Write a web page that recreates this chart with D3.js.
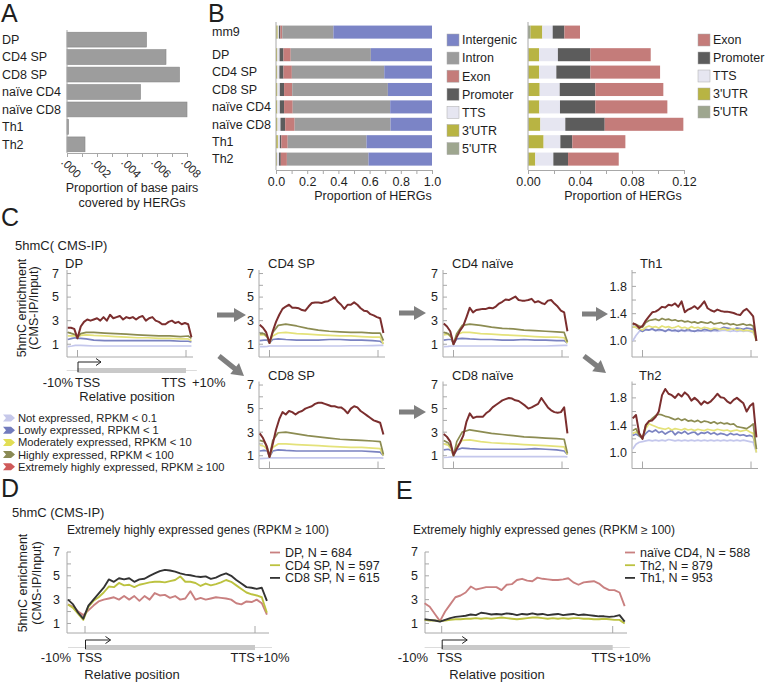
<!DOCTYPE html>
<html><head><meta charset="utf-8">
<script src="https://cdn.jsdelivr.net/npm/d3@7"></script>
<style>body{margin:0;background:#fff}svg{font-family:Arial,"Liberation Sans",sans-serif}</style>
</head><body>
<svg id="c" width="765" height="684"></svg>
<script>
// ---------- Panel A data ----------
const catA = ["DP","CD4 SP","CD8 SP","naïve CD4","naïve CD8","Th1","Th2"];
const valA = [0.0053,0.0066,0.0075,0.0049,0.0080,0.0001,0.0012];
const tickValsA = [0,0.001,0.002,0.003,0.004,0.005,0.006,0.007,0.008];
const tickLabA = [".000","",".002","",".004","",".006","",".008"];

// ---------- Panel B data ----------
const catB = ["mm9","DP","CD4 SP","CD8 SP","naïve CD4","naïve CD8","Th1","Th2"];
const featB = ["5'UTR","3'UTR","TTS","Promoter","Exon","Intron","Intergenic"];
const utr5B = [0.002,0.0005,0.0005,0.0005,0.0005,0.0005,0.0005,0.0005];
const utr3B = [0.009,0.008,0.008,0.0085,0.0082,0.009,0.0115,0.0051];
const ttsB = [0.008,0.0145,0.0133,0.0154,0.0159,0.0192,0.0129,0.0139];
const promB = [0.009,0.025,0.0262,0.0274,0.0272,0.0303,0.0092,0.0113];
const exonB = [0.012,0.0464,0.0536,0.0523,0.0554,0.0605,0.0408,0.039];
const intronB = [0.328,0.5136,0.5924,0.6129,0.6248,0.6145,0.5051,0.5232];
const interB = [0.632,0.392,0.306,0.283,0.268,0.266,0.42,0.407];
const tickValsB1 = [0,0.1,0.2,0.3,0.4,0.5,0.6,0.7,0.8,0.9,1.0];
const tickLabB1 = ["0.0","","0.2","","0.4","","0.6","","0.8","","1.0"];
const tickValsB2 = [0,0.02,0.04,0.06,0.08,0.10,0.12];
const tickLabB2 = ["0.00","","0.04","","0.08","","0.12"];

// ---------- Panel C data ----------
const pos = [-9,-6,-3,0,3,6,9,12,15,18,21,24,27,30,33,36,39,42,45,48,51,54,57,60,63,66,69,72,75,78,81,84,87,90,93,96,99,102,105];
const posCoarse = [-9,-5,-2,0,3,8,15,25,35,45,55,65,75,85,95,102,105];
const exprLevels = ["Not expressed, RPKM < 0.1","Lowly expressed, RPKM < 1","Moderately expressed, RPKM < 10","Highly expressed, RPKM < 100","Extremely highly expressed, RPKM ≥ 100"];

const dpExt = [2.4,2.4,2.3,1.5,2.5,2.9,3.1,3.0,3.1,3.2,3.0,3.3,3.0,3.5,3.2,3.3,3.4,3.1,3.3,3.2,3.3,3.1,3.3,3.4,3.0,3.2,3.3,3.0,2.9,2.7,2.7,2.9,3.0,2.8,2.9,2.7,2.8,2.7,1.6];
const dpHigh = [2.0,1.9,1.8,1.6,1.9,2.0,2.0,1.95,1.9,1.85,1.8,1.75,1.7,1.7,1.65,1.7,1.5];
const dpMod = [1.7,1.7,1.7,1.6,1.75,1.8,1.75,1.7,1.65,1.6,1.55,1.55,1.5,1.5,1.45,1.45,1.3];
const dpLow = [1.4,1.5,1.55,1.5,1.5,1.45,1.35,1.3,1.3,1.3,1.3,1.3,1.3,1.3,1.25,1.25,1.2];
const dpNot = [0.8,0.85,0.9,0.9,0.9,0.88,0.85,0.85,0.85,0.85,0.85,0.85,0.85,0.85,0.85,0.85,0.85];

const cd4spExt = [2.65,2.4,2.0,1.1,2.1,2.9,3.5,4.0,4.2,4.35,4.1,4.1,4.05,3.9,3.85,4.2,4.5,4.55,4.55,4.5,4.6,4.65,4.8,5.0,4.6,4.35,4.0,4.35,4.35,4.55,4.35,4.05,3.85,3.8,3.55,3.45,3.3,3.2,1.95];
const cd4spHigh = [1.9,1.9,1.6,1.1,2.0,2.6,2.7,2.55,2.35,2.2,2.1,2.05,2.0,2.0,1.95,1.95,1.3];
const cd4spMod = [1.8,1.8,1.6,1.1,1.7,1.95,2.0,1.9,1.85,1.8,1.75,1.7,1.7,1.65,1.6,1.6,1.0];
const cd4spLow = [1.3,1.35,1.35,1.1,1.4,1.45,1.4,1.35,1.35,1.35,1.4,1.4,1.35,1.35,1.3,1.25,1.05];
const cd4spNot = [0.8,0.8,0.82,0.85,0.85,0.85,0.85,0.85,0.85,0.85,0.85,0.85,0.87,0.87,0.88,0.9,0.9];

const cd4nExt = [2.75,2.5,2.1,1.0,1.6,2.15,2.55,3.3,4.1,3.7,3.9,3.95,4.0,4.0,4.1,4.05,4.2,4.45,4.6,4.8,4.75,4.9,5.05,4.75,4.7,4.7,4.75,4.85,4.55,4.65,4.5,4.4,4.7,4.75,4.45,4.2,3.85,3.7,2.1];
const cd4nHigh = [2.0,1.9,1.6,1.0,1.9,2.6,2.7,2.6,2.45,2.35,2.3,2.2,2.15,2.1,2.05,2.0,1.2];
const cd4nMod = [1.8,1.85,1.6,1.0,1.8,2.0,2.0,1.9,1.85,1.8,1.75,1.7,1.65,1.6,1.6,1.55,1.1];
const cd4nLow = [1.35,1.4,1.4,1.0,1.45,1.5,1.45,1.4,1.4,1.35,1.35,1.4,1.35,1.35,1.3,1.3,1.1];
const cd4nNot = [0.8,0.82,0.85,0.85,0.85,0.85,0.85,0.85,0.85,0.85,0.85,0.85,0.85,0.85,0.88,0.9,0.9];

const cd8spExt = [2.9,2.5,1.9,0.9,2.0,3.2,4.1,4.7,4.5,4.8,4.7,4.5,4.7,4.8,5.0,5.1,5.2,5.4,5.5,5.5,5.4,5.3,5.2,5.2,5.1,5.1,4.9,4.6,5.0,5.2,5.1,4.8,4.6,4.4,4.2,4.0,3.9,3.8,2.8];
const cd8spHigh = [2.3,2.2,1.7,0.9,2.3,2.95,3.0,2.85,2.7,2.6,2.5,2.4,2.35,2.3,2.25,2.2,1.1];
const cd8spMod = [1.9,1.8,1.5,0.9,1.7,2.0,2.0,1.95,1.9,1.85,1.8,1.75,1.7,1.7,1.65,1.6,1.0];
const cd8spLow = [1.4,1.45,1.4,0.9,1.4,1.5,1.45,1.4,1.4,1.4,1.4,1.4,1.4,1.4,1.35,1.3,1.0];
const cd8spNot = [0.75,0.78,0.8,0.82,0.82,0.82,0.82,0.82,0.82,0.82,0.82,0.82,0.82,0.82,0.82,0.82,0.8];

const cd8nExt = [2.85,2.6,2.2,1.05,1.6,2.1,2.7,3.9,4.6,4.2,4.3,4.3,4.3,4.6,4.8,5.1,5.3,5.5,5.7,5.8,5.9,5.85,5.7,5.65,5.45,5.25,5.0,5.1,5.25,5.4,5.9,5.5,5.1,4.85,4.7,4.65,4.7,5.1,2.9];
const cd8nHigh = [2.3,2.1,1.7,1.0,2.2,3.0,3.2,3.05,2.9,2.8,2.7,2.6,2.55,2.5,2.45,2.4,1.2];
const cd8nMod = [2.0,1.9,1.5,1.0,1.8,2.3,2.35,2.2,2.1,2.05,2.0,1.95,1.9,1.85,1.8,1.75,1.1];
const cd8nLow = [1.5,1.55,1.45,1.0,1.5,1.65,1.6,1.55,1.55,1.55,1.55,1.55,1.6,1.55,1.5,1.4,1.1];
const cd8nNot = [0.85,0.87,0.9,0.92,0.92,0.92,0.92,0.92,0.92,0.92,0.92,0.92,0.92,0.92,0.92,0.92,0.9];

const th1Ext = [1.26,1.24,1.19,1.22,1.3,1.36,1.42,1.43,1.46,1.5,1.49,1.53,1.52,1.55,1.5,1.58,1.42,1.46,1.48,1.51,1.47,1.52,1.58,1.48,1.45,1.43,1.46,1.44,1.43,1.43,1.42,1.41,1.39,1.38,1.44,1.47,1.42,1.36,1.0];
const th1High = [1.25,1.24,1.22,1.2,1.27,1.3,1.31,1.32,1.3,1.33,1.31,1.32,1.3,1.31,1.29,1.3,1.28,1.29,1.27,1.28,1.26,1.28,1.27,1.26,1.28,1.25,1.26,1.27,1.25,1.26,1.24,1.25,1.23,1.24,1.25,1.23,1.24,1.22,1.0];
const th1Mod = [1.21,1.2,1.18,1.16,1.2,1.22,1.2,1.21,1.19,1.22,1.2,1.21,1.19,1.2,1.22,1.19,1.2,1.18,1.21,1.19,1.2,1.18,1.2,1.19,1.17,1.19,1.18,1.17,1.18,1.16,1.17,1.18,1.16,1.17,1.15,1.16,1.15,1.14,1.0];
const th1Low = [1.22,1.2,1.17,1.14,1.17,1.16,1.18,1.15,1.17,1.16,1.14,1.17,1.15,1.16,1.14,1.16,1.15,1.17,1.15,1.14,1.16,1.15,1.17,1.16,1.15,1.17,1.16,1.18,1.2,1.19,1.18,1.17,1.19,1.18,1.17,1.19,1.18,1.17,1.0];
const th1Not = [1.0,1.08,1.14,1.15,1.16,1.16,1.17,1.16,1.15,1.16,1.15,1.16,1.15,1.14,1.16,1.15,1.14,1.15,1.14,1.15,1.14,1.15,1.14,1.15,1.14,1.15,1.14,1.15,1.16,1.15,1.14,1.15,1.14,1.15,1.14,1.15,1.14,1.12,1.05];

const th2Ext = [1.5,1.55,1.28,1.2,1.4,1.46,1.47,1.52,1.6,1.84,1.93,1.86,1.84,1.8,1.86,1.82,1.88,1.84,1.76,1.8,1.76,1.7,1.75,1.72,1.75,1.8,1.86,1.81,1.8,1.75,1.72,1.77,1.8,1.76,1.72,1.6,1.68,1.72,1.22];
const th2High = [1.32,1.35,1.25,1.2,1.4,1.45,1.5,1.54,1.56,1.55,1.53,1.52,1.5,1.48,1.5,1.47,1.49,1.46,1.47,1.45,1.47,1.44,1.46,1.45,1.43,1.45,1.42,1.44,1.42,1.43,1.41,1.42,1.38,1.37,1.36,1.35,1.38,1.42,1.05];
const th2Mod = [1.28,1.3,1.27,1.22,1.35,1.42,1.4,1.38,1.36,1.35,1.34,1.36,1.33,1.35,1.34,1.33,1.35,1.33,1.34,1.32,1.34,1.33,1.32,1.34,1.33,1.32,1.34,1.33,1.32,1.33,1.31,1.32,1.33,1.31,1.32,1.33,1.3,1.28,1.0];
const th2Low = [1.25,1.27,1.24,1.22,1.28,1.32,1.3,1.33,1.29,1.31,1.27,1.3,1.32,1.26,1.3,1.28,1.31,1.27,1.29,1.3,1.26,1.29,1.28,1.3,1.27,1.29,1.26,1.28,1.27,1.25,1.28,1.26,1.27,1.25,1.26,1.24,1.25,1.23,1.05];
const th2Not = [1.05,1.12,1.15,1.16,1.17,1.18,1.17,1.18,1.17,1.18,1.17,1.19,1.18,1.17,1.18,1.17,1.18,1.17,1.18,1.17,1.18,1.17,1.18,1.17,1.18,1.17,1.18,1.17,1.18,1.17,1.18,1.17,1.18,1.17,1.18,1.17,1.16,1.15,1.0];

const ticksBig = ["1","3","5","7"], minorBig = [2,4,6];
const ticksSmall = ["1.0","1.4","1.8"], minorSmall = [1.2,1.6,2.0];

// ---------- Panels D / E data ----------
const posDE = [-10,-7,-4,-1,2,5,8,11,14,17,20,23,26,29,32,35,38,41,44,47,50,53,56,59,62,65,68,71,74,77,80,83,86,89,92,95,98,101,104,107];
const dDP = [2.6,2.4,2.0,1.7,2.1,2.5,2.85,3.0,3.1,3.2,3.0,3.3,3.0,3.3,2.9,3.3,3.0,3.55,3.35,3.4,3.15,3.3,3.0,3.1,3.7,3.0,3.15,3.0,3.1,3.2,3.15,3.1,3.0,2.7,2.6,2.85,2.8,3.0,2.7,1.75];
const dCD4 = [2.6,2.3,1.8,1.3,2.4,2.9,3.2,3.6,4.1,4.05,4.4,4.2,4.25,4.05,4.25,4.35,4.45,4.5,4.5,4.45,4.55,4.65,4.95,4.5,4.5,4.4,4.15,4.35,4.2,4.3,4.45,4.65,4.5,4.2,3.9,3.6,3.45,3.35,3.2,1.9];
const dCD8 = [3.0,2.6,1.9,1.4,2.5,3.0,3.5,4.0,4.7,4.5,4.8,4.7,4.8,4.5,4.7,4.75,5.0,5.2,5.4,5.5,5.45,5.35,5.2,5.1,5.05,4.95,4.9,4.95,4.75,4.85,5.05,5.2,5.0,4.65,4.35,4.05,4.0,3.9,4.0,2.9];
const dLabels = ["DP, N = 684","CD4 SP, N = 597","CD8 SP, N = 615"];
const eNaive = [2.7,2.4,1.8,1.2,2.0,2.6,3.2,3.35,3.6,4.1,3.85,3.95,4.05,4.05,4.05,3.8,4.25,4.3,4.65,4.75,4.6,4.55,4.85,4.75,4.7,4.65,4.65,4.7,4.8,4.45,4.25,4.45,4.5,4.55,4.35,4.0,3.8,3.8,3.6,2.45];
const eTh2 = [1.3,1.25,1.25,1.2,1.25,1.3,1.35,1.35,1.4,1.4,1.45,1.4,1.45,1.4,1.45,1.5,1.45,1.4,1.35,1.4,1.45,1.5,1.5,1.45,1.4,1.45,1.4,1.45,1.4,1.45,1.45,1.4,1.4,1.35,1.35,1.4,1.35,1.3,1.3,1.0];
const eTh1 = [1.35,1.3,1.25,1.15,1.3,1.45,1.55,1.6,1.65,1.75,1.7,1.9,1.85,1.75,1.8,1.75,1.85,1.8,1.7,1.8,1.75,1.85,1.75,1.8,1.7,1.75,1.8,1.7,1.75,1.8,1.7,1.75,1.7,1.65,1.6,1.6,1.55,1.6,1.7,1.15];
const eLabels = ["naïve CD4, N = 588","Th2, N = 879","Th1, N = 953"];

// =============================================================
const svg = d3.select("#c");
const AX = "#a8a8a8", TXT = "#1e1e1e";
function txt(x,y,s,size,anchor){
  return svg.append("text").attr("x",x).attr("y",y).text(s)
    .attr("font-size",size||12).attr("text-anchor",anchor||"start").attr("fill",TXT);
}
function line(x1,y1,x2,y2,col,w){
  svg.append("line").attr("x1",x1).attr("y1",y1).attr("x2",x2).attr("y2",y2)
    .attr("stroke",col||AX).attr("stroke-width",w||1);
}
txt(1,22,"A",25); txt(208,22,"B",25); txt(1,226,"C",25); txt(1,497,"D",25); txt(396,499,"E",25);

// ---------------- Panel A ----------------
{
  const x = d3.scaleLinear().domain([0,0.008]).range([67,187]);
  const y = d3.scaleBand().domain(catA).range([31,153]).paddingInner(0.15).paddingOuter(0.07);
  svg.append("g").selectAll("rect").data(catA).join("rect")
    .attr("x",x(0)).attr("y",d=>y(d)).attr("height",y.bandwidth())
    .attr("width",(d,i)=>x(valA[i])-x(0)).attr("fill","#9d9d9d").attr("stroke","#858585").attr("stroke-width",0.6);
  catA.forEach(c=>txt(2,y(c)+y.bandwidth()/2,c,12.5).attr("dy","0.35em"));
  line(67,30,67,153);
  const ax = svg.append("g").attr("transform","translate(0,153)")
    .call(d3.axisBottom(x).tickValues(tickValsA).tickSize(4).tickFormat((d,i)=>tickLabA[i]));
  ax.select(".domain").attr("stroke",AX);
  ax.selectAll(".tick line").attr("stroke",AX);
  ax.selectAll(".tick text").attr("transform","rotate(45)").attr("x",2).attr("y",8).attr("dy","0.35em")
    .style("text-anchor","start").attr("font-size",11.5).attr("fill",TXT).attr("font-family","Arial, Liberation Sans, sans-serif");
  txt(132,192,"Proportion of base pairs",12.5,"middle");
  txt(132,207,"covered by HERGs",12.5,"middle");
}

// ---------------- Panel B ----------------
const colB = {"5'UTR":"#9ea68f","3'UTR":"#b8b443","TTS":"#e6e6f1","Promoter":"#5c5c5c","Exon":"#c47c7a","Intron":"#9c9c9c","Intergenic":"#7b84c6"};
{
  const rows = catB.map((c,i)=>({cat:c,"5'UTR":utr5B[i],"3'UTR":utr3B[i],"TTS":ttsB[i],"Promoter":promB[i],"Exon":exonB[i],"Intron":intronB[i],"Intergenic":interB[i]}));
  const yCells = d3.scaleBand().domain(catB.slice(1)).range([46,167.8]).paddingInner(0.25).paddingOuter(0.125);
  const yM = d3.scaleBand().domain(["mm9"]).range([23.4,40.8]).paddingInner(0.25).paddingOuter(0.125);
  const yb = c => c==="mm9" ? yM(c) : yCells(c);
  const bh = yCells.bandwidth();
  const x1 = d3.scaleLinear().domain([0,1]).range([276,432]);
  const st1 = d3.stack().keys(featB)(rows);
  st1.forEach(s=>{
    svg.append("g").selectAll("rect").data(s).join("rect")
      .attr("x",d=>x1(d[0])).attr("width",d=>Math.max(0,x1(d[1])-x1(d[0])))
      .attr("y",d=>yb(d.data.cat)).attr("height",bh).attr("fill",colB[s.key]);
  });
  catB.forEach(c=>txt(212,yb(c)+bh/2,c,12.5).attr("dy","0.35em"));
  line(276,22,276,170);
  const a1 = svg.append("g").attr("transform","translate(0,170)")
    .call(d3.axisBottom(x1).tickValues(tickValsB1).tickSize(4).tickFormat((d,i)=>tickLabB1[i]));
  a1.select(".domain").attr("stroke",AX); a1.selectAll(".tick line").attr("stroke",AX);
  a1.selectAll(".tick text").attr("font-size",12.5).attr("fill",TXT).attr("font-family","Arial, Liberation Sans, sans-serif");
  txt(373,200,"Proportion of HERGs",12.5,"middle");
  const legL = featB.slice().reverse();
  legL.forEach((f,i)=>{
    const cy = 40 + i*18.1;
    svg.append("rect").attr("x",447).attr("y",cy-6).attr("width",12).attr("height",12)
      .attr("fill",colB[f]).attr("stroke","#aaa").attr("stroke-width",0.5);
    txt(462,cy,f,12.5).attr("dy","0.35em");
  });
  const keys2 = featB.slice(0,5);
  const x2 = d3.scaleLinear().domain([0,0.12]).range([528,684]);
  const st2 = d3.stack().keys(keys2)(rows);
  st2.forEach(s=>{
    svg.append("g").selectAll("rect").data(s).join("rect")
      .attr("x",d=>x2(d[0])).attr("width",d=>Math.max(0,x2(d[1])-x2(d[0])))
      .attr("y",d=>yb(d.data.cat)).attr("height",bh).attr("fill",colB[s.key]);
  });
  line(528,22,528,170);
  const a2 = svg.append("g").attr("transform","translate(0,170)")
    .call(d3.axisBottom(x2).tickValues(tickValsB2).tickSize(4).tickFormat((d,i)=>tickLabB2[i]));
  a2.select(".domain").attr("stroke",AX); a2.selectAll(".tick line").attr("stroke",AX);
  a2.selectAll(".tick text").attr("font-size",12.5).attr("fill",TXT).attr("font-family","Arial, Liberation Sans, sans-serif");
  txt(623,200,"Proportion of HERGs",12.5,"middle");
  const legR = keys2.slice().reverse();
  legR.forEach((f,i)=>{
    const cy = 40 + i*18;
    svg.append("rect").attr("x",698).attr("y",cy-6).attr("width",12).attr("height",12)
      .attr("fill",colB[f]).attr("stroke","#aaa").attr("stroke-width",0.5);
    txt(713,cy,f,12.5).attr("dy","0.35em");
  });
}

// ---------------- Panel C ----------------
const lineCols = ["#c4c7ec","#7b83c1","#e4e27a","#8c8c52","#7b2e2e"];
const iconCols = ["#c6c8ea","#727bbd","#e2de55","#8a8a55","#cf5a5a"];
txt(15,250,"5hmC( CMS-IP)",13);
svg.append("text").attr("transform","translate(22,308) rotate(-90)").attr("dy","0.35em").attr("text-anchor","middle")
  .attr("font-size",12.5).attr("fill",TXT).text("5hmC enrichment");
svg.append("text").attr("transform","translate(34,308) rotate(-90)").attr("dy","0.35em").attr("text-anchor","middle")
  .attr("font-size",12.5).attr("fill",TXT).text("(CMS-IP/Input)");

const panelsC = [
  {title:"DP",x0:67,row:0,tx:65,small:false,off:8,series:[[posCoarse,dpNot],[posCoarse,dpLow],[posCoarse,dpMod],[posCoarse,dpHigh],[pos,dpExt]]},
  {title:"CD4 SP",x0:259,row:0,tx:268,small:false,off:5,series:[[posCoarse,cd4spNot],[posCoarse,cd4spLow],[posCoarse,cd4spMod],[posCoarse,cd4spHigh],[pos,cd4spExt]]},
  {title:"CD4 naïve",x0:443,row:0,tx:452,small:false,off:5,series:[[posCoarse,cd4nNot],[posCoarse,cd4nLow],[posCoarse,cd4nMod],[posCoarse,cd4nHigh],[pos,cd4nExt]]},
  {title:"Th1",x0:632,row:0,tx:640,small:true,off:5,series:[[pos,th1Not],[pos,th1Low],[pos,th1Mod],[pos,th1High],[pos,th1Ext]]},
  {title:"CD8 SP",x0:259,row:1,tx:268,small:false,off:5,series:[[posCoarse,cd8spNot],[posCoarse,cd8spLow],[posCoarse,cd8spMod],[posCoarse,cd8spHigh],[pos,cd8spExt]]},
  {title:"CD8 naïve",x0:443,row:1,tx:452,small:false,off:5,series:[[posCoarse,cd8nNot],[posCoarse,cd8nLow],[posCoarse,cd8nMod],[posCoarse,cd8nHigh],[pos,cd8nExt]]},
  {title:"Th2",x0:632,row:1,tx:639,small:true,off:5,series:[[pos,th2Not],[pos,th2Low],[pos,th2Mod],[pos,th2High],[pos,th2Ext]]}
];
panelsC.forEach(p=>{
  const dy = p.row*111.5;
  const xs = d3.scaleLinear().domain([0,100]).range([p.x0+10.5,p.x0+119]);
  const ys = d3.scaleLinear().domain(p.small?[0.78,2.04]:[0,7.3]).range([356+dy,270+dy]);
  const bottom = 357+dy;
  line(p.x0,270+dy,p.x0,bottom);
  line(p.x0,bottom,p.x0+126,bottom);
  const maj = p.small?ticksSmall:ticksBig, mnr = p.small?minorSmall:minorBig;
  maj.forEach(t=>{ const v=+t; line(p.x0,ys(v),p.x0+4,ys(v)); txt(p.x0-p.off,ys(v),t,12.5,"end").attr("dy","0.35em"); });
  mnr.forEach(v=>line(p.x0,ys(v),p.x0+4,ys(v)));
  [0,100].forEach(v=>line(xs(v),bottom,xs(v),bottom-7));
  const g = svg.append("g");
  p.series.forEach((s,i)=>{
    const [px,vals] = s;
    const pts = vals.map((v,j)=>[px[j],v]);
    g.append("path").datum(pts).attr("fill","none").attr("stroke",lineCols[i])
      .attr("stroke-width",i===4?2:1.7).attr("stroke-linejoin","round")
      .attr("d",d3.line().x(d=>xs(d[0])).y(d=>ys(d[1])));
  });
  txt(p.tx,(p.row?380:268),p.title,13);
});

function geneAnnot(xs,yb,arrowTop,arrowLen,labY,m10,tssX,ttsX,p10,relX,relY){
  line(xs(-10),yb,xs(110),yb,"#dcdcdc",1);
  svg.append("rect").attr("x",xs(0)).attr("y",yb-2.5).attr("width",xs(100)-xs(0)).attr("height",5).attr("fill","#c9c9c9");
  const ax = xs(0)+0.5, ae = ax+arrowLen;
  svg.append("path").attr("d",`M${ax},${yb+1.5}V${arrowTop}H${ae}`).attr("fill","none").attr("stroke","#222").attr("stroke-width",1);
  svg.append("path").attr("d",`M${ae-5},${arrowTop-3.5}L${ae},${arrowTop}L${ae-5},${arrowTop+3.5}`).attr("fill","none").attr("stroke","#222").attr("stroke-width",1);
  txt(m10,labY,"-10%",13,"end");
  txt(tssX,labY,"TSS",13,"start");
  txt(ttsX,labY,"TTS",13,"end");
  txt(p10,labY,"+10%",13,"start");
  txt(relX,relY,"Relative position",13,"middle");
}
{
  const xs = d3.scaleLinear().domain([0,100]).range([77.5,186]);
  geneAnnot(xs,370.5,362,23,387,73,75,186,192,127,401);
}

function blockArrow(x1,y1,x2,y2){
  const a=Math.atan2(y2-y1,x2-x1)*180/Math.PI, L=Math.hypot(x2-x1,y2-y1), hl=12, hw=7, sw=2.6;
  const pts=[[0,-sw],[L-hl,-sw],[L-hl,-hw],[L,0],[L-hl,hw],[L-hl,sw],[0,sw]];
  svg.append("polygon").attr("points",pts.map(q=>q.join(",")).join(" "))
    .attr("transform",`translate(${x1},${y1}) rotate(${a})`).attr("fill","#7f7f7f");
}
blockArrow(217,315,246,315);
blockArrow(219,356,244,376);
blockArrow(399,313,426,313);
blockArrow(399,412,426,412);
blockArrow(582,314,608,314);
blockArrow(584,356,606,373);

// legend C
exprLevels.forEach((s,i)=>{
  const cy = 418 + i*12.2;
  svg.append("path").attr("d",`M3,${cy-3.5}L11,${cy-3.5}L15,${cy}L11,${cy+3.5}L3,${cy+3.5}L6,${cy}Z`).attr("fill",iconCols[i]);
  txt(18,cy,s,11.2).attr("dy","0.35em");
});

// ---------------- Panels D & E ----------------
const deCols = ["#c98080","#bcc240","#333333"];
function panelDE(x0,tss,tts,xEnd,series,labels,legX,titleX){
  const xs = d3.scaleLinear().domain([0,100]).range([tss,tts]);
  const ys = d3.scaleLinear().domain([0.2,7]).range([633,552]);
  line(x0,552,x0,633); line(x0,633,xEnd,633);
  ticksBig.forEach(t=>{const v=+t; line(x0,ys(v),x0+4,ys(v)); txt(x0-7,ys(v),t,12.5,"end").attr("dy","0.35em");});
  minorBig.forEach(v=>line(x0,ys(v),x0+4,ys(v)));
  [0,100].forEach(v=>line(xs(v),633,xs(v),626));
  series.forEach((vals,i)=>{
    svg.append("path").datum(vals.map((v,j)=>[posDE[j],v])).attr("fill","none").attr("stroke",deCols[i])
      .attr("stroke-width",1.9).attr("stroke-linejoin","round")
      .attr("d",d3.line().x(d=>xs(d[0])).y(d=>ys(d[1])));
  });
  labels.forEach((s,i)=>{
    const cy = 552.5 + i*12.7;
    line(legX,cy,legX+10,cy,deCols[i],1.8);
    txt(legX+15,cy,s,12.5).attr("dy","0.35em");
  });
  txt(titleX,534,"Extremely highly expressed genes (RPKM ≥ 100)",12);
  return xs;
}
txt(12,517,"5hmC (CMS-IP)",13);
svg.append("text").attr("transform","translate(23,583) rotate(-90)").attr("dy","0.35em").attr("text-anchor","middle")
  .attr("font-size",12.5).attr("fill",TXT).text("5hmC enrichment");
svg.append("text").attr("transform","translate(37,583) rotate(-90)").attr("dy","0.35em").attr("text-anchor","middle")
  .attr("font-size",12.5).attr("fill",TXT).text("(CMS-IP/Input)");
{
  const xs = panelDE(67,85,255,269,[dDP,dCD4,dCD8],dLabels,270,67);
  geneAnnot(xs,647.5,640,25,662,71,77,255,256,132,679);
}
{
  const xs = panelDE(425,441.7,612.7,627,[eNaive,eTh2,eTh1],eLabels,625,413);
  geneAnnot(xs,647.5,640,25,662,428,437,616,617,497,679);
}
</script>
</body></html>
